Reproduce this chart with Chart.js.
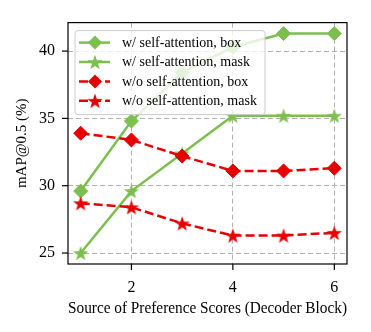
<!DOCTYPE html>
<html lang="en">
<head>
    <meta charset="UTF-8">
    <title>mAP vs Decoder Block</title>
    <script src="https://cdn.jsdelivr.net/npm/chart.js"></script>
    <style>
        html, body { margin: 0; padding: 0; background: white; }
        #wrap { width: 371px; height: 332px; }
    </style>
</head>
<body>
    <div id="wrap"><canvas id="chart" width="371" height="332"></canvas></div>

    <script>
        // data
        const blocks = [1, 2, 3, 4, 5, 6];
        const withBox = [29.6, 34.8, 38.4, 40.3, 41.3, 41.3];
        const withMask = [25.0, 29.6, 32.4, 35.2, 35.2, 35.2];
        const withoutBox = [33.9, 33.4, 32.2, 31.1, 31.1, 31.3];
        const withoutMask = [28.7, 28.4, 27.2, 26.3, 26.3, 26.5];
        const xTicks = [2, 4, 6];
        const yTicks = [25, 30, 35, 40];
        const labels = [
            "w/ self-attention, box",
            "w/ self-attention, mask",
            "w/o self-attention, box",
            "w/o self-attention, mask"
        ];

        const GREEN = "#7dbf4f";
        const RED = "#e60000";
        const SERIF = "'Liberation Serif', 'DejaVu Serif', serif";

        function starImage(color, r) {
            let c = document.createElement("canvas");
            let s = Math.ceil(r * 2 + 2);
            c.width = s; c.height = s;
            let g = c.getContext("2d");
            g.fillStyle = color;
            g.beginPath();
            for (let i = 0; i < 10; i++) {
                let rad = (i % 2 === 0) ? r : r * 0.4;
                let a = -Math.PI / 2 + i * Math.PI / 5;
                let px = s / 2 + rad * Math.cos(a);
                let py = s / 2 + rad * Math.sin(a) + 0.8;
                if (i === 0) g.moveTo(px, py); else g.lineTo(px, py);
            }
            g.closePath();
            g.fill();
            return c;
        }

        const greenStar = starImage(GREEN, 8);
        const redStar = starImage(RED, 8);

        function pts(vals) {
            return blocks.map((b, i) => ({ x: b, y: vals[i] }));
        }

        const series = [
            { vals: withBox, color: GREEN, dash: [], marker: "rectRot" },
            { vals: withMask, color: GREEN, dash: [], marker: greenStar },
            { vals: withoutBox, color: RED, dash: [9, 4], marker: "rectRot" },
            { vals: withoutMask, color: RED, dash: [9, 4], marker: redStar }
        ];

        const datasets = series.map((s, i) => ({
            label: labels[i],
            data: pts(s.vals),
            borderColor: s.color,
            backgroundColor: s.color,
            borderWidth: 2.5,
            borderDash: s.dash,
            pointStyle: s.marker,
            pointRadius: 7,
            pointBorderWidth: 1,
            pointHoverRadius: 7,
            tension: 0,
            fill: false,
            order: 3 - i
        }));

        // box round the axes, outside tick marks and the legend
        const frame = {
            id: "frame",
            afterDraw(chart) {
                const ctx = chart.ctx;
                const a = chart.chartArea;
                const xs = chart.scales.x, ys = chart.scales.y;
                ctx.save();
                ctx.strokeStyle = "black";
                ctx.lineWidth = 1.2;
                ctx.setLineDash([]);
                xTicks.forEach(v => {
                    let px = xs.getPixelForValue(v);
                    ctx.beginPath(); ctx.moveTo(px, a.bottom); ctx.lineTo(px, a.bottom + 6); ctx.stroke();
                });
                yTicks.forEach(v => {
                    let py = ys.getPixelForValue(v);
                    ctx.beginPath(); ctx.moveTo(a.left - 6, py); ctx.lineTo(a.left, py); ctx.stroke();
                });

                // legend
                let lx = a.left + 7, ly = a.top + 8, lw = 190, lh = 84;
                ctx.fillStyle = "rgba(255,255,255,0.8)";
                ctx.strokeStyle = "#cccccc";
                ctx.lineWidth = 1;
                ctx.beginPath();
                ctx.roundRect(lx, ly, lw, lh, 3);
                ctx.fill(); ctx.stroke();

                ctx.font = "14px " + SERIF;
                ctx.textBaseline = "middle";
                series.forEach((s, i) => {
                    let ry = ly + 12 + i * 19.4;
                    ctx.strokeStyle = s.color;
                    ctx.lineWidth = 2.5;
                    ctx.setLineDash(s.dash);
                    ctx.beginPath(); ctx.moveTo(lx + 4, ry); ctx.lineTo(lx + 35, ry); ctx.stroke();
                    ctx.setLineDash([]);
                    ctx.fillStyle = s.color;
                    ctx.strokeStyle = s.color;
                    if (s.marker === "rectRot") {
                        ctx.beginPath();
                        ctx.moveTo(lx + 20, ry - 7); ctx.lineTo(lx + 27, ry);
                        ctx.lineTo(lx + 20, ry + 7); ctx.lineTo(lx + 13, ry);
                        ctx.closePath(); ctx.fill();
                    } else {
                        ctx.drawImage(s.marker, lx + 20 - s.marker.width / 2, ry - s.marker.height / 2);
                    }
                    ctx.fillStyle = "black";
                    ctx.fillText(labels[i], lx + 47, ry + 0.5);
                });

                ctx.strokeStyle = "black";
                ctx.lineWidth = 1.2;
                ctx.strokeRect(a.left, a.top, a.right - a.left, a.bottom - a.top);
                ctx.restore();
            }
        };

        Chart.defaults.font.family = SERIF;
        Chart.defaults.color = "black";

        new Chart(document.getElementById("chart"), {
            type: "line",
            data: { datasets: datasets },
            plugins: [frame],
            options: {
                responsive: false,
                animation: false,
                events: [],
                layout: { padding: { top: 14, right: 24, left: 0, bottom: 0 } },
                plugins: { legend: { display: false }, tooltip: { enabled: false } },
                scales: {
                    x: {
                        type: "linear",
                        min: 0.75,
                        max: 6.25,
                        afterBuildTicks: s => { s.ticks = xTicks.map(v => ({ value: v })); },
                        afterFit: s => { s.height = 68; },
                        grid: { color: "#b0b0b0", lineWidth: 1, drawTicks: false },
                        border: { display: false, dash: [5, 3] },
                        ticks: { padding: 14, font: { size: 16 }, maxRotation: 0 },
                        title: {
                            display: true,
                            text: "Source of Preference Scores (Decoder Block)",
                            font: { size: 16.3 },
                            padding: { top: 0, bottom: 13 }
                        }
                    },
                    y: {
                        min: 24.185,
                        max: 42.115,
                        afterBuildTicks: s => { s.ticks = yTicks.map(v => ({ value: v })); },
                        afterFit: s => { s.width = 68; },
                        grid: { color: "#b0b0b0", lineWidth: 1, drawTicks: false },
                        border: { display: false, dash: [5, 3] },
                        ticks: { padding: 13, font: { size: 16 } },
                        title: {
                            display: true,
                            text: "mAP@0.5 (%)",
                            font: { size: 15 },
                            padding: { top: 13.5, bottom: 0 }
                        }
                    }
                }
            }
        });
    </script>
</body>
</html>
